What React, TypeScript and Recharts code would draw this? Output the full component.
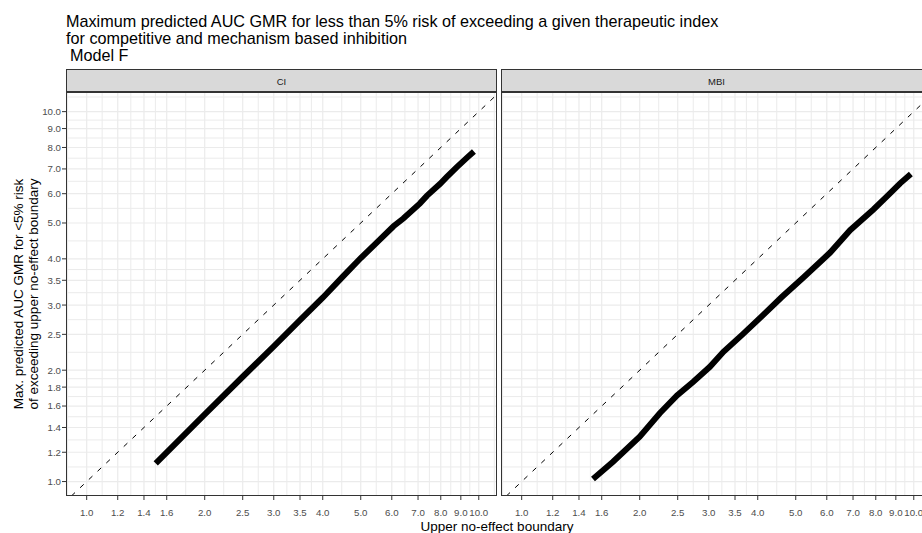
import React from 'react';
import { LineChart, Line, XAxis, YAxis, ReferenceLine } from 'recharts';

const FONT = '"Liberation Sans", Arial, Helvetica, sans-serif';

const xTicks = [1.0, 1.2, 1.4, 1.6, 2.0, 2.5, 3.0, 3.5, 4.0, 5.0, 6.0, 7.0, 8.0, 9.0, 10.0];
const yTicks = [1.0, 1.2, 1.4, 1.6, 1.8, 2.0, 2.5, 3.0, 3.5, 4.0, 5.0, 6.0, 7.0, 8.0, 9.0, 10.0];
const xMinorGrid = [0.894, 1.095, 1.296, 1.497, 1.789, 2.236, 2.739, 3.24, 3.742, 4.472, 5.477, 6.481, 7.483, 8.485, 9.487, 10.954];
const yMinorGrid = [1.095, 1.296, 1.497, 1.697, 1.897, 2.236, 2.739, 3.24, 3.742, 4.472, 5.477, 6.481, 7.483, 8.485, 9.487, 10.954];

const xDomain = [0.8856, 11.13];
const yDomain = [0.914, 11.3];

const panelLabels = ['CI', 'MBI'];

const ciSeries = [
  { x: 1.5, y: 1.12 },
  { x: 2.0, y: 1.52 },
  { x: 2.5, y: 1.92 },
  { x: 3.0, y: 2.32 },
  { x: 3.5, y: 2.73 },
  { x: 4.0, y: 3.14 },
  { x: 4.5, y: 3.58 },
  { x: 5.0, y: 4.02 },
  { x: 5.5, y: 4.43 },
  { x: 6.06, y: 4.9 },
  { x: 6.42, y: 5.14 },
  { x: 7.08, y: 5.65 },
  { x: 7.37, y: 5.92 },
  { x: 7.97, y: 6.38 },
  { x: 8.29, y: 6.66 },
  { x: 8.79, y: 7.08 },
  { x: 9.32, y: 7.5 },
  { x: 9.72, y: 7.8 },
];

const mbiSeries = [
  { x: 1.52, y: 1.016 },
  { x: 1.71, y: 1.131 },
  { x: 2.0, y: 1.322 },
  { x: 2.25, y: 1.53 },
  { x: 2.49, y: 1.71 },
  { x: 2.74, y: 1.861 },
  { x: 3.02, y: 2.043 },
  { x: 3.27, y: 2.243 },
  { x: 3.66, y: 2.5 },
  { x: 4.1, y: 2.8 },
  { x: 4.6, y: 3.15 },
  { x: 5.23, y: 3.56 },
  { x: 6.12, y: 4.16 },
  { x: 6.88, y: 4.78 },
  { x: 7.89, y: 5.44 },
  { x: 8.53, y: 5.89 },
  { x: 9.23, y: 6.4 },
  { x: 9.83, y: 6.78 },
];

const identityLine = [
  { x: 0.914, y: 0.914 },
  { x: 11.13, y: 11.13 },
];

const fmt = (v: number) => v.toFixed(1);

function Panel({ series, showY }: { series: { x: number; y: number }[]; showY: boolean }) {
  const width = showY ? 500 : 431;
  return (
    <LineChart
      width={width}
      height={533}
      margin={{ top: 92, right: showY ? 3 : 0, bottom: 12, left: showY ? 6 : 0 }}
    >
      <XAxis
        dataKey="x"
        type="number"
        scale="log"
        domain={xDomain}
        allowDataOverflow
        ticks={xTicks}
        interval={0}
        tickFormatter={fmt}
        axisLine={false}
        tickLine={{ stroke: '#333333' }}
        tickSize={4}
        tickMargin={9}
        height={25}
        tick={{ fill: '#4D4D4D', fontSize: 9.7, fontFamily: FONT }}
      />
      <YAxis
        dataKey="y"
        type="number"
        scale="log"
        domain={yDomain}
        allowDataOverflow
        ticks={yTicks}
        interval={0}
        tickFormatter={fmt}
        axisLine={false}
        tickLine={{ stroke: '#333333' }}
        tickSize={4}
        tickMargin={1}
        width={60}
        hide={!showY}
        tick={{ fill: '#4D4D4D', fontSize: 9.7, fontFamily: FONT }}
      />
      {xMinorGrid.map((v) => (
        <ReferenceLine key={'xm' + v} x={v} stroke="#EBEBEB" strokeWidth={1} />
      ))}
      {xTicks.map((v) => (
        <ReferenceLine key={'xM' + v} x={v} stroke="#EBEBEB" strokeWidth={1.2} />
      ))}
      {yMinorGrid.map((v) => (
        <ReferenceLine key={'ym' + v} y={v} stroke="#EBEBEB" strokeWidth={1} />
      ))}
      {yTicks.map((v) => (
        <ReferenceLine key={'yM' + v} y={v} stroke="#EBEBEB" strokeWidth={1.2} />
      ))}
      <Line
        data={identityLine}
        dataKey="y"
        stroke="#000000"
        strokeWidth={1}
        strokeDasharray="5 7"
        dot={false}
        isAnimationActive={false}
      />
      <Line
        data={series}
        dataKey="y"
        stroke="#000000"
        strokeWidth={6}
        dot={false}
        type="linear"
        isAnimationActive={false}
      />
    </LineChart>
  );
}

export default function App() {
  const panelXs = [66, 501];
  return (
    <div
      style={{
        position: 'absolute',
        left: 0,
        top: 0,
        width: 922,
        height: 533,
        overflow: 'hidden',
        background: '#ffffff',
        fontFamily: FONT,
      }}
    >
      <div style={{ position: 'absolute', left: 0, top: 0 }}>
        <Panel series={ciSeries} showY={true} />
      </div>
      <div style={{ position: 'absolute', left: 501, top: 0 }}>
        <Panel series={mbiSeries} showY={false} />
      </div>
      <svg
        width={922}
        height={533}
        style={{ position: 'absolute', left: 0, top: 0, pointerEvents: 'none' }}
      >
        <g fontFamily={FONT} fill="#000000">
          <text x={66} y={26.7} fontSize={16.2}>
            Maximum predicted AUC GMR for less than 5% risk of exceeding a given therapeutic index
          </text>
          <text x={66} y={43.5} fontSize={16.2}>
            for competitive and mechanism based inhibition
          </text>
          <text x={70} y={61} fontSize={16.2}>
            Model F
          </text>
        </g>
        {panelXs.map((px, i) => (
          <g key={px}>
            <rect x={px + 0.5} y={69.5} width={430} height={22} fill="#D9D9D9" stroke="#333333" strokeWidth={1} />
            <text
              x={px + 215.5}
              y={85}
              fontSize={9.5}
              textAnchor="middle"
              fill="#1A1A1A"
              fontFamily={FONT}
            >
              {panelLabels[i]}
            </text>
            <rect x={px + 0.5} y={92.5} width={430} height={403} fill="none" stroke="#333333" strokeWidth={1} />
          </g>
        ))}
        <g fontFamily={FONT} fill="#000000" fontSize={13.5} textAnchor="middle">
          <text x={23} y={294} transform="rotate(-90 23 294)">
            Max. predicted AUC GMR for &lt;5% risk
          </text>
          <text x={38} y={294} transform="rotate(-90 38 294)">
            of exceeding upper no-effect boundary
          </text>
          <text x={497} y={530.5}>
            Upper no-effect boundary
          </text>
        </g>
      </svg>
    </div>
  );
}
